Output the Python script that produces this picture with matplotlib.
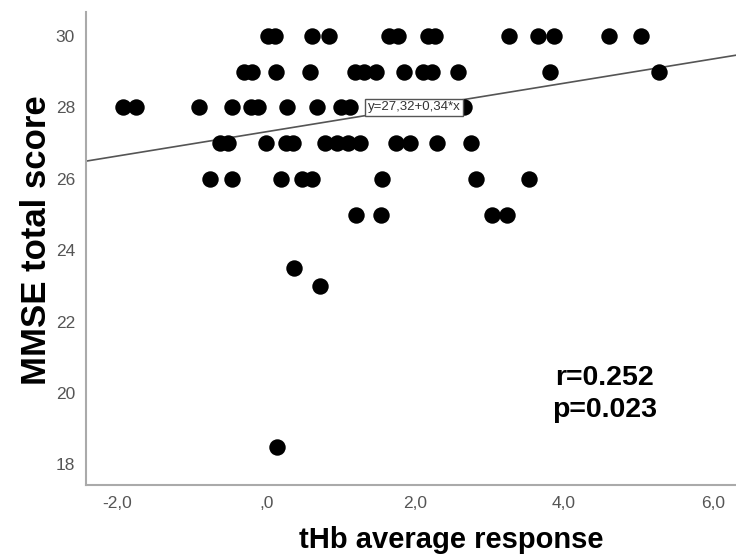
import numpy as np
import matplotlib.pyplot as plt
from matplotlib.ticker import FuncFormatter

plt.rcParams['font.family'] = ['Liberation Sans', 'DejaVu Sans']

# tHb average response per subject, grouped by MMSE total score
x_30 = [0.03, 0.12, 0.62, 0.84, 1.65, 1.77, 2.17, 2.27, 3.26, 3.65, 3.87, 4.61, 5.04]
x_29 = [-0.30, -0.19, 0.13, 0.59, 1.19, 1.31, 1.47, 1.85, 2.10, 2.22, 2.58, 3.81, 5.28]
x_28 = [-1.92, -1.75, -0.90, -0.46, -0.21, -0.11, 0.28, 0.68, 1.00, 1.12, 2.65]
x_27 = [-0.62, -0.51, -0.01, 0.26, 0.36, 0.79, 0.95, 1.10, 1.26, 1.74, 1.93, 2.30, 2.75]
x_26 = [-0.76, -0.46, 0.20, 0.48, 0.62, 1.55, 2.82, 3.53]
x_25 = [1.20, 1.54, 3.03, 3.24]
x_other = [0.37, 0.72, 0.14]
y_other = [23.5, 23.0, 18.5]

intercept = 27.32
slope = 0.34
r_value = 0.252
p_value = 0.023

xs = x_30 + x_29 + x_28 + x_27 + x_26 + x_25 + x_other
ys = ([30] * len(x_30) + [29] * len(x_29) + [28] * len(x_28) + [27] * len(x_27)
      + [26] * len(x_26) + [25] * len(x_25) + y_other)

fig = plt.figure(figsize=(7.36, 5.55), dpi=100)
ax = fig.add_axes([0.117, 0.126, 0.883, 0.852])

ax.scatter(xs, ys, s=140, color='black', zorder=3, linewidths=0)

xlim = (-2.42, 6.31)
ylim = (17.42, 30.67)
ax.set_xlim(xlim)
ax.set_ylim(ylim)

# fit line
lx = np.array(xlim)
ax.plot(lx, intercept + slope * lx, color='#555555', lw=1.2, zorder=2)

ax.text(1.99, 28, 'y=27,32+0,34*x', ha='center', va='center', fontsize=9.5,
        color='#333333', zorder=4,
        bbox=dict(boxstyle='square,pad=0.2', facecolor='white', edgecolor='#555555', lw=1))

ax.text(4.55, 19.98, f'r={r_value}\np={p_value:.3f}', ha='center', va='center',
        fontsize=20.5, fontweight='bold', linespacing=1.3)

ax.set_xticks([-2, 0, 2, 4, 6])
ax.set_yticks([18, 20, 22, 24, 26, 28, 30])


def comma_fmt(v, pos):
    s = f'{v:.1f}'.replace('.', ',')
    if s.startswith('0,'):
        s = s[1:]
    return s


ax.xaxis.set_major_formatter(FuncFormatter(comma_fmt))
ax.tick_params(length=0, labelsize=12.5, labelcolor='#555555', pad=8)

for side in ['top', 'right']:
    ax.spines[side].set_visible(False)
for side in ['left', 'bottom']:
    ax.spines[side].set_color('#aaaaaa')
    ax.spines[side].set_linewidth(1.5)

ax.set_xlabel('tHb average response', fontsize=21, fontweight='bold')
ax.set_ylabel('MMSE total score', fontsize=25, fontweight='bold')
ax.xaxis.set_label_coords((451 - 86) / 650, -(548 - 485) / 473, transform=ax.transAxes)
ax.yaxis.set_label_coords(-(86 - 20) / 650, (485 - 240) / 473, transform=ax.transAxes)
ax.xaxis.label.set_va('baseline')
ax.yaxis.label.set_va('top')

fig.savefig('out.png', dpi=100)
